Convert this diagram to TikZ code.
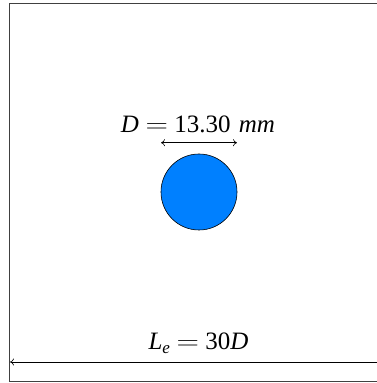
\documentclass[tikz,border=0pt]{standalone}
\usepackage{fontspec}
\setmainfont{Liberation Serif}
\usepackage{graphicx}
\usepackage{tikz}
\usetikzlibrary{arrows.meta,positioning}
\definecolor{pipeblue}{RGB}{0,128,255}
\newcommand{\eqsign}{\hspace{6.5pt}\scalebox{1.25}[1]{$=$}\hspace{6.5pt}}

\begin{document}
\begin{tikzpicture}[
    x=1pt, y=1pt,
    pipe/.style={circle, draw, fill=pipeblue, line width=0.6pt, minimum size=76pt, inner sep=0pt},
    label/.style={anchor=base, inner sep=0pt, font=\fontsize{25}{29}\selectfont},
    dim/.style={line width=0.6pt, {To[length=4pt,width=7pt]}-{To[length=4pt,width=7pt]}},
    wall/.style={line width=0.8pt, black!75}
]
\useasboundingbox (0,0) rectangle (377,383);

% domain
\coordinate (tr) at (377,379.7);
\coordinate (tl) at (9,379.7);
\coordinate (bl) at (9,2);
\coordinate (br) at (377,2);
\draw[wall] (tr) -- (tl) -- (bl) -- (br);

% cylinder and diameter
\node[pipe] (cyl) at (199,191) {};
\coordinate (dl) at (161,240.3);
\coordinate (dr) at (237,240.3);
\draw[dim] (dl) -- (dr);
\node[label] (dlab) at (198,250.3) {\textit{D}\eqsign 13.30\hspace{2pt} \textit{mm}};

% domain length
\coordinate (ar) at (377,21);
\coordinate (al) at (10,21);
\draw[line width=0.6pt, -{To[length=4pt,width=7pt]}] (ar) -- (al);
\node[label] (llab) at (198.5,34) {\textit{L}\raisebox{-5pt}{\fontsize{17}{20}\selectfont\textit{e}}\eqsign 30\textit{D}};

\end{tikzpicture}
\end{document}
